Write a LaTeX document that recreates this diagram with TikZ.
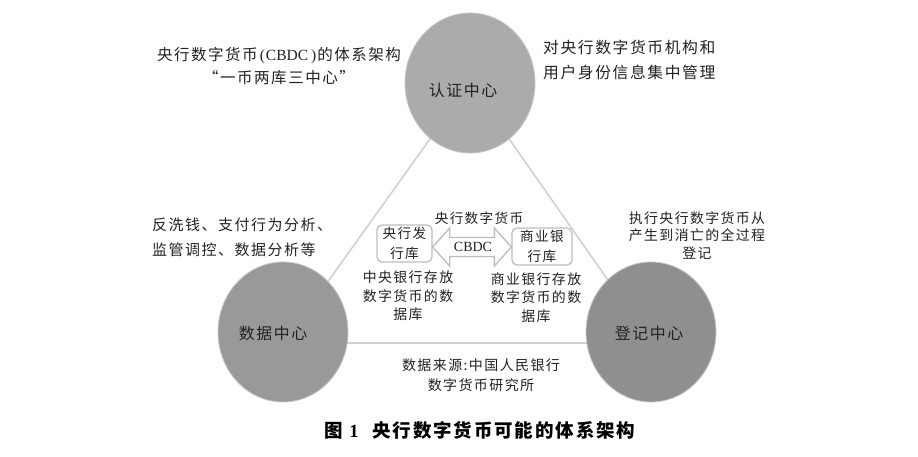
\documentclass[tikz,border=0pt]{standalone}
\usepackage{fontspec}
\setmainfont{Liberation Serif}
\newfontfamily\cjk[LetterSpace=10]{Noto Sans CJK SC}
\usetikzlibrary{shapes.geometric,calc}
\definecolor{ctop}{HTML}{ABABAB}
\definecolor{cleft}{HTML}{999999}
\definecolor{cright}{HTML}{8F8F8F}
\definecolor{tline}{HTML}{CFCFCF}
\definecolor{bline}{HTML}{BDBDBD}
\definecolor{txt}{HTML}{222222}
\tikzset{
  hub/.style={shape=ellipse, minimum width=130pt, minimum height=140pt, inner sep=0pt, draw=black!22, line width=0.8pt},
  tri/.style={draw=tline, line width=1.5pt},
  lbl/.style={inner sep=0pt, text=txt, align=center},
  kubox/.style={draw=bline, line width=1.3pt, rounded corners=5pt, minimum width=55pt, minimum height=37pt, inner sep=0pt, text=txt, align=center, fill=white},
  dblarrow/.style={draw=bline, line width=1.3pt, fill=white, line join=miter},
}
\newcommand{\fs}[2]{\fontsize{#1pt}{#2pt}\selectfont}
\begin{document}
\begin{tikzpicture}[x=1pt,y=-1pt]
\useasboundingbox[fill=white] (0,0) rectangle (918,456);
% triangle vertices
\coordinate (T) at (470,83);
\coordinate (L) at (284,343);
\coordinate (R) at (652,343);
\draw[tri] (T) -- (L);
\draw[tri] (T) -- (R);
\draw[tri] (L) -- (R);
% hubs
\node[hub, fill=ctop] (top) at (470,83) {};
\node[hub, fill=cleft] (left) at (283,332) {};
\node[hub, fill=cright] (right) at (651,332) {};
\node[lbl, font=\cjk\fs{15.9}{18}] (topt) at (463,90) {认证中心};
\node[lbl, font=\cjk\fs{15.9}{18}] (leftt) at (273,333) {数据中心};
\node[lbl, font=\cjk\fs{15.9}{18}] (rightt) at (649,333) {登记中心};
% annotations
\node[lbl, font=\fs{15.5}{23}] (tl) at (279,66.5) {{\cjk 央行数字货币}\hspace{2pt}(\hspace{1pt}CBDC\hspace{3pt})\hspace{1pt}{\cjk 的体系架构}\\{\cjk “一币两库三中心”}};
\node[lbl, anchor=west, align=left, font=\cjk\fs{15.8}{25}] (tr) at (543,59.5) {对央行数字货币机构和\\用户身份信息集中管理};
\node[lbl, anchor=west, align=left, font=\cjk\fs{15}{25}] (lt) at (152,237.5) {反洗钱、支付行为分析、\\监管调控、数据分析等};
\node[lbl, font=\cjk\fs{13.9}{17.5}] (rt) at (697,235.5) {执行央行数字货币从\\产生到消亡的全过程\\登记};
% boxes
\node[kubox, font=\cjk\fs{13.6}{20}] (box1) at (404.5,243.5) {央行发\\行库};
\node[kubox, minimum width=60pt, font=\cjk\fs{13.6}{20}] (box2) at (542,246.5) {商业银\\行库};
\node[lbl, font=\cjk\fs{13.6}{18}] (money) at (479,218) {央行数字货币};
% double arrow between boxes
\coordinate (al) at ($(box1.east)+(0,3.5)$);
\coordinate (ar) at ($(box2.west)+(0,0.5)$);
\draw[dblarrow] (al) -- ++(17,-19) -- ++(0,9.5) -- ($(ar)+(-17,-9.5)$) -- ++(0,-9.5) -- (ar)
  -- ++(-17,19) -- ++(0,-9.5) -- ($(al)+(17,9.5)$) -- ++(0,9.5) -- cycle;
\node[lbl, font=\fs{14}{16}] (cbdc) at ($(al)!0.5!(ar)+(1,0)$) {CBDC};
\node[lbl, font=\cjk\fs{13.9}{18.5}] (d1) at (408,296) {中央银行存放\\数字货币的数\\据库};
\node[lbl, font=\cjk\fs{13.9}{18.5}] (d2) at (536,297.5) {商业银行存放\\数字货币的数\\据库};
% source
\node[lbl, font=\cjk\fs{14}{20}] (src) at (481,375) {数据来源:中国人民银行\\数字货币研究所};
% caption
\node[lbl, text=black, font=\fs{18.5}{20}\bfseries] (cap) at (480,430) {{\cjk\bfseries 图}\hspace*{6pt}1\hspace*{14pt}{\cjk\bfseries 央行数字货币可能的体系架构}};
\end{tikzpicture}
\end{document}
